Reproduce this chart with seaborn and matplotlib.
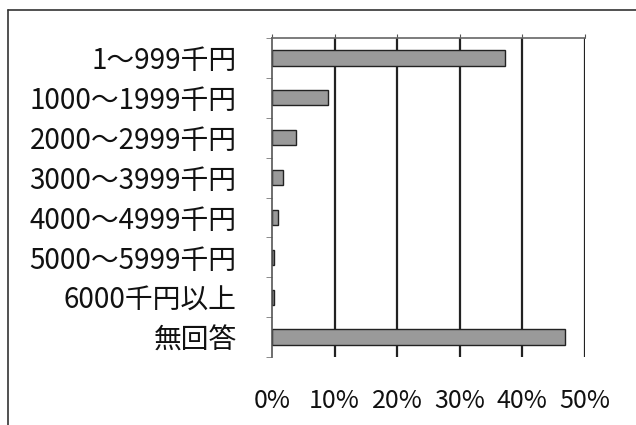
import matplotlib
matplotlib.use("Agg")
import matplotlib.pyplot as plt
from matplotlib.lines import Line2D
from matplotlib.ticker import PercentFormatter, FixedLocator
import seaborn as sns
import pandas as pd

# 年収区分と割合(%)
categories = ["1～999千円", "1000～1999千円", "2000～2999千円", "3000～3999千円",
              "4000～4999千円", "5000～5999千円", "6000千円以上", "無回答"]
shares = [37.2, 8.9, 3.8, 1.8, 1.0, 0.3, 0.3, 46.8]
xticks = [0, 10, 20, 30, 40, 50]

df = pd.DataFrame({"category": categories, "share": shares})

sns.set_style("white")
plt.rcParams["font.family"] = ["Noto Sans CJK JP", "DejaVu Sans"]

fig = plt.figure(figsize=(6.36, 4.25), dpi=100)
ax = fig.add_axes([272 / 636, 1 - 357 / 425, (585 - 272) / 636, (357 - 38) / 425])

sns.barplot(data=df, x="share", y="category", orient="h", color="#9a9a9a",
            edgecolor="#222222", linewidth=1.0, width=0.38, saturation=1, ax=ax)

ax.set_xlim(0, 50)
ax.set_ylim(7.5, -0.5)
ax.set_xticks(xticks)
ax.xaxis.set_major_formatter(PercentFormatter(decimals=0))
ax.set_xlabel("")
ax.set_ylabel("")

# grid lines
for v in xticks[1:]:
    ax.axvline(v, color="#222222", lw=1.6, zorder=0)

for s in ["right", "bottom"]:
    ax.spines[s].set_visible(False)
ax.spines["left"].set_color("#555555")
ax.spines["left"].set_linewidth(1.2)
ax.spines["top"].set_color("#666666")
ax.spines["top"].set_linewidth(1.2)

ax.tick_params(axis="x", bottom=False, top=True, length=3, color="#555555",
               labelsize=18, pad=19, labelcolor="#111111")
ax.yaxis.set_minor_locator(FixedLocator([i + 0.5 for i in range(-1, 8)]))
ax.tick_params(axis="y", which="major", left=False, labelsize=20, pad=22,
               labelcolor="#111111")
ax.tick_params(axis="y", which="minor", left=True, length=4, color="#777777")

# outer frame (left and top)
fig.add_artist(Line2D([8 / 636, 8 / 636], [0, 1 - 10 / 425], color="#333333", lw=1.2))
fig.add_artist(Line2D([8 / 636, 1], [1 - 10 / 425, 1 - 10 / 425], color="#333333", lw=1.2))

fig.savefig("out.png", dpi=100)
